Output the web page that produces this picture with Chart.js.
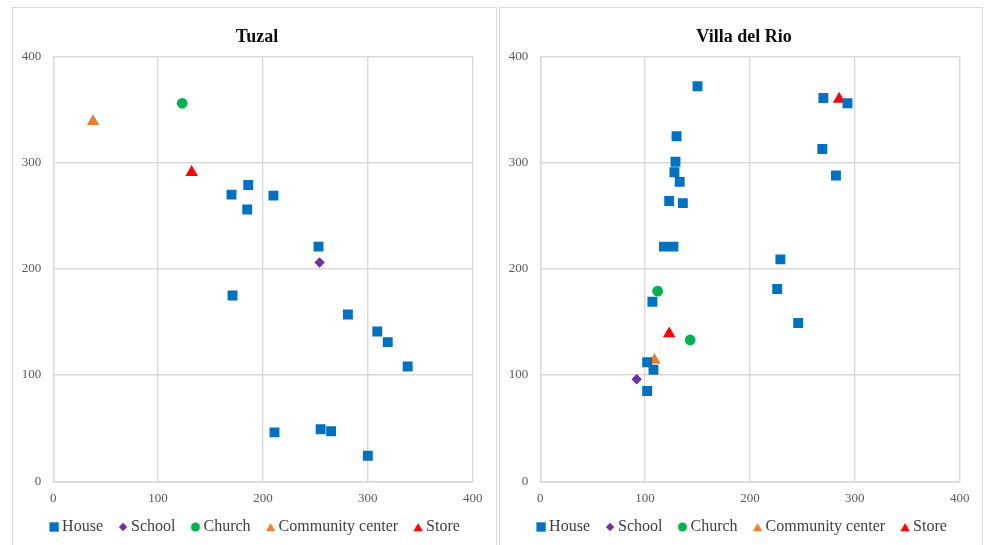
<!DOCTYPE html>
<html>
<head>
<meta charset="utf-8">
<script src="https://cdn.jsdelivr.net/npm/chart.js@4.4.1/dist/chart.umd.min.js"></script>
<style>
  html, body { margin: 0; padding: 0; background: #ffffff; width: 984px; height: 545px; overflow: hidden; }
  .panel { position: absolute; top: 7px; height: 560px; border: 1px solid #d9d9d9; box-sizing: border-box; background: #ffffff; }
  #panelLeft { left: 12px; width: 485px; }
  #panelRight { left: 499px; width: 484px; }
  canvas { position: absolute; top: 8px; }
  #chartLeft { left: 12px; }
  #chartRight { left: 499px; }
</style>
</head>
<body>
<div class="panel" id="panelLeft"></div>
<div class="panel" id="panelRight"></div>
<canvas id="chartLeft" width="490" height="537"></canvas>
<canvas id="chartRight" width="490" height="537"></canvas>
<script>
// Series shared by both neighbourhood maps
const seriesNames = ['House', 'School', 'Church', 'Community center', 'Store'];
const seriesColors = ['#0070C0', '#7030A0', '#00B050', '#ED7D31', '#FF0000'];
const axisTicks = [0, 100, 200, 300, 400];

// Tuzal
const tuzalHouseX = [170, 186, 185, 210, 253, 171, 281, 309, 319, 338, 211, 255, 265, 300];
const tuzalHouseY = [270, 279, 256, 269, 221, 175, 157, 141, 131, 108, 46, 49, 47, 24];
const tuzalSchoolX = [254];
const tuzalSchoolY = [206];
const tuzalChurchX = [123];
const tuzalChurchY = [356];
const tuzalCenterX = [38];
const tuzalCenterY = [339];
const tuzalStoreX = [132];
const tuzalStoreY = [291];

// Villa del Rio
const villaHouseX = [150, 270, 293, 130, 269, 129, 128, 133, 282, 123, 136, 118, 127, 229, 226, 246, 107, 102, 108, 102];
const villaHouseY = [372, 361, 356, 325, 313, 301, 291, 282, 288, 264, 262, 221, 221, 209, 181, 149, 169, 112, 105, 85];
const villaSchoolX = [92];
const villaSchoolY = [96];
const villaChurchX = [112, 143];
const villaChurchY = [179, 133];
const villaCenterX = [109];
const villaCenterY = [114];
const villaStoreX = [285, 123];
const villaStoreY = [360, 139];

const SERIF = '"Liberation Serif", "Times New Roman", serif';
const GRID = '#d9d9d9';
const TICK = '#595959';

const markStyles = ['rect', 'rectRot', 'circle', 'triangle', 'triangle'];
const markRadii = [7, 5.2, 5.4, 7.2, 7.2];
const legendRadii = [6.6, 4.2, 4.6, 5.5, 5.5];

function drawMark(g, style, radius, x, y) {
  if (Chart.helpers && Chart.helpers.drawPoint) {
    Chart.helpers.drawPoint(g, { pointStyle: style, radius: radius, rotation: 0, borderWidth: 0 }, x, y);
    return;
  }
  g.beginPath();
  if (style === 'circle') {
    g.arc(x, y, radius, 0, Math.PI * 2);
  } else if (style === 'rect') {
    const s = radius * Math.SQRT1_2;
    g.rect(x - s, y - s, 2 * s, 2 * s);
  } else if (style === 'rectRot') {
    g.moveTo(x, y - radius); g.lineTo(x + radius, y); g.lineTo(x, y + radius); g.lineTo(x - radius, y);
  } else {
    g.moveTo(x, y - radius);
    g.lineTo(x + radius * Math.sin(2 * Math.PI / 3), y - radius * Math.cos(2 * Math.PI / 3));
    g.lineTo(x + radius * Math.sin(4 * Math.PI / 3), y - radius * Math.cos(4 * Math.PI / 3));
  }
  g.closePath();
  g.fill();
}

// Small legend swatches, one per series
function legendSwatch(i) {
  const size = 16;
  const c = document.createElement('canvas');
  c.width = size; c.height = size;
  const g = c.getContext('2d');
  g.fillStyle = seriesColors[i];
  const dy = markStyles[i] === 'triangle' ? legendRadii[i] * 0.25 : 0;
  drawMark(g, markStyles[i], legendRadii[i], size / 2, size / 2 + dy);
  return c;
}
const swatches = seriesNames.map((_, i) => legendSwatch(i));

function toPoints(xs, ys) {
  return xs.map((x, k) => ({ x: x, y: ys[k] }));
}

function buildChart(canvasId, title, groups) {
  const datasets = groups.map((g, i) => ({
    label: seriesNames[i],
    data: toPoints(g[0], g[1]),
    yAxisID: 'y',
    pointStyle: markStyles[i],
    pointRadius: markRadii[i],
    pointHoverRadius: markRadii[i],
    pointBorderWidth: 0,
    backgroundColor: seriesColors[i],
    borderColor: seriesColors[i]
  }));

  const tickFont = { family: SERIF, size: 13 };
  const lo = axisTicks[0];
  const hi = axisTicks[axisTicks.length - 1];
  const step = axisTicks[1] - axisTicks[0];

  return new Chart(document.getElementById(canvasId), {
    type: 'scatter',
    data: { datasets: datasets },
    options: {
      responsive: false,
      animation: false,
      events: [],
      layout: { padding: 0 },
      plugins: {
        title: {
          display: true,
          text: title,
          color: '#0d0d0d',
          font: { family: SERIF, size: 18, weight: 'bold' },
          padding: { top: 19, bottom: 8 }
        },
        legend: {
          position: 'bottom',
          labels: {
            usePointStyle: true,
            boxWidth: 0.01,
            boxHeight: 10,
            padding: 20,
            color: '#404040',
            font: { family: SERIF, size: 16 },
            generateLabels: function (chart) {
              const items = Chart.defaults.plugins.legend.labels.generateLabels(chart);
              items.forEach(it => { it.pointStyle = swatches[it.datasetIndex]; });
              return items;
            }
          }
        },
        tooltip: { enabled: false }
      },
      scales: {
        x: {
          type: 'linear',
          position: 'bottom',
          min: lo, max: hi,
          // mirrored labels are not clipped to the thin axis box
          ticks: { stepSize: step, mirror: true, padding: -24.8, color: TICK, font: tickFont },
          grid: { color: GRID, lineWidth: 1.4, drawTicks: false },
          border: { color: GRID, width: 1.4 },
          afterFit: s => { s.height = 17.8; }
        },
        y: {
          type: 'linear',
          position: 'left',
          min: lo, max: hi,
          ticks: { stepSize: step, padding: 12, color: TICK, font: tickFont },
          grid: { color: GRID, lineWidth: 1.4, drawTicks: false },
          border: { color: GRID, width: 1.4 },
          afterFit: s => { s.width = 41.2; }
        },
        y2: {
          type: 'linear',
          position: 'right',
          display: true,
          grid: { display: false },
          border: { display: false },
          ticks: { display: false },
          afterFit: s => { s.width = 29.3; }
        }
      }
    }
  });
}

buildChart('chartLeft', 'Tuzal', [
  [tuzalHouseX, tuzalHouseY],
  [tuzalSchoolX, tuzalSchoolY],
  [tuzalChurchX, tuzalChurchY],
  [tuzalCenterX, tuzalCenterY],
  [tuzalStoreX, tuzalStoreY]
]);

buildChart('chartRight', 'Villa del Rio', [
  [villaHouseX, villaHouseY],
  [villaSchoolX, villaSchoolY],
  [villaChurchX, villaChurchY],
  [villaCenterX, villaCenterY],
  [villaStoreX, villaStoreY]
]);
</script>
</body>
</html>
